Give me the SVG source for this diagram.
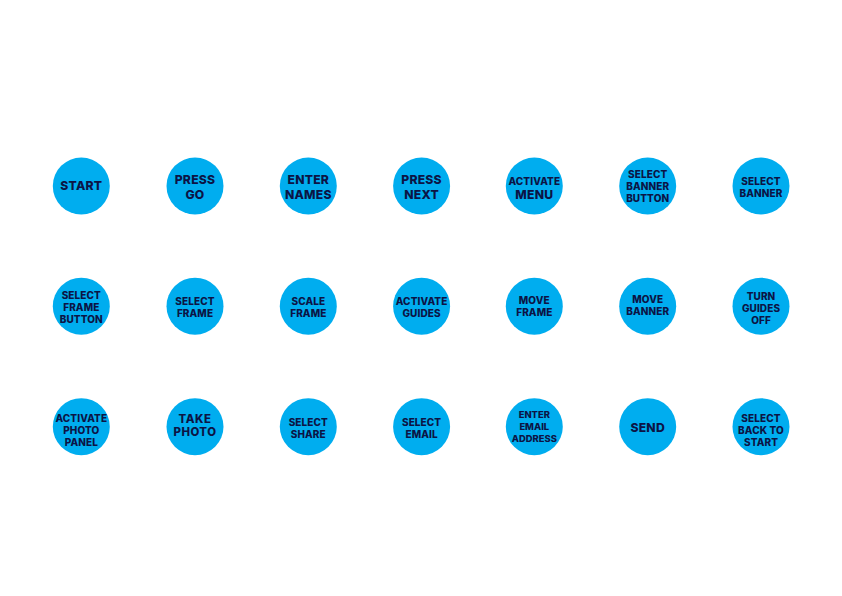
<svg xmlns="http://www.w3.org/2000/svg" width="842" height="596" viewBox="0 0 842 596">
<style>
.n{fill:#00adef}
text{font-family:Inter,"Liberation Sans",sans-serif;font-weight:800;fill:#0c1445;text-anchor:middle}
.L{font-size:12.2px;letter-spacing:0.2px}
.T{font-size:11.4px;letter-spacing:0.5px}
.S{font-size:10px;letter-spacing:0.1px}
.X{font-size:9.4px}
</style>
<rect width="842" height="596" fill="#ffffff"/>
<g id="connectors"></g>
<g id="n1"><circle class="n" cx="81.3" cy="186" r="28.5"/><text class="L" x="81.3" y="189.7">START</text></g>
<g id="n2"><circle class="n" cx="195" cy="186" r="28.5"/><text class="L" x="195" y="184.1">PRESS</text><text class="L" x="195" y="198.5">GO</text></g>
<g id="n3"><circle class="n" cx="308.3" cy="186" r="28.5"/><text class="L" x="308.3" y="184.4">ENTER</text><text class="L" x="308.3" y="198.8">NAMES</text></g>
<g id="n4"><circle class="n" cx="421.6" cy="186" r="28.5"/><text class="L" x="421.6" y="184.4">PRESS</text><text class="L" x="421.6" y="198.8">NEXT</text></g>
<g id="n5"><circle class="n" cx="534.3" cy="186" r="28.5"/><text class="S" x="534.3" y="184.5">ACTIVATE</text><text class="L" x="534.3" y="198.8">MENU</text></g>
<g id="n6"><circle class="n" cx="647.7" cy="186" r="28.5"/><text class="S" x="647.7" y="178">SELECT</text><text class="S" x="647.7" y="190">BANNER</text><text class="S" x="647.7" y="201.8">BUTTON</text></g>
<g id="n7"><circle class="n" cx="761" cy="186" r="28.5"/><text class="S" x="761" y="185">SELECT</text><text class="S" x="761" y="197">BANNER</text></g>

<g id="n8"><circle class="n" cx="81.3" cy="306.2" r="28.5"/><text class="S" x="81.3" y="299">SELECT</text><text class="S" x="81.3" y="310.8">FRAME</text><text class="S" x="81.3" y="322.7">BUTTON</text></g>
<g id="n9"><circle class="n" cx="195" cy="306.2" r="28.5"/><text class="S" x="195" y="305">SELECT</text><text class="S" x="195" y="317">FRAME</text></g>
<g id="n10"><circle class="n" cx="308.3" cy="306.2" r="28.5"/><text class="S" x="308.3" y="305">SCALE</text><text class="S" x="308.3" y="317">FRAME</text></g>
<g id="n11"><circle class="n" cx="421.6" cy="306.2" r="28.5"/><text class="S" x="421.6" y="305">ACTIVATE</text><text class="S" x="421.6" y="317">GUIDES</text></g>
<g id="n12"><circle class="n" cx="534.3" cy="306.2" r="28.5"/><text class="S" x="534.3" y="304">MOVE</text><text class="S" x="534.3" y="316">FRAME</text></g>
<g id="n13"><circle class="n" cx="647.7" cy="306.2" r="28.5"/><text class="S" x="647.7" y="302.7">MOVE</text><text class="S" x="647.7" y="314.8">BANNER</text></g>
<g id="n14"><circle class="n" cx="761" cy="306.2" r="28.5"/><text class="S" x="761" y="300">TURN</text><text class="S" x="761" y="311.8">GUIDES</text><text class="S" x="761" y="323.5">OFF</text></g>

<g id="n15"><circle class="n" cx="81.3" cy="426.7" r="28.5"/><text class="S" x="81.3" y="421.7">ACTIVATE</text><text class="S" x="81.3" y="433.7">PHOTO</text><text class="S" x="81.3" y="445.7">PANEL</text></g>
<g id="n16"><circle class="n" cx="195" cy="426.7" r="28.5"/><text class="T" x="195" y="422.9">TAKE</text><text class="T" x="195" y="436">PHOTO</text></g>
<g id="n17"><circle class="n" cx="308.3" cy="426.7" r="28.5"/><text class="S" x="308.3" y="425.7">SELECT</text><text class="S" x="308.3" y="437.7">SHARE</text></g>
<g id="n18"><circle class="n" cx="421.6" cy="426.7" r="28.5"/><text class="S" x="421.6" y="425.7">SELECT</text><text class="S" x="421.6" y="437.7">EMAIL</text></g>
<g id="n19"><circle class="n" cx="534.3" cy="426.7" r="28.5"/><text class="X" x="534.3" y="418.3">ENTER</text><text class="X" x="534.3" y="430.3">EMAIL</text><text class="X" x="534.3" y="442.1">ADDRESS</text></g>
<g id="n20"><circle class="n" cx="647.7" cy="426.7" r="28.5"/><text class="L" x="647.7" y="431.5">SEND</text></g>
<g id="n21"><circle class="n" cx="761" cy="426.7" r="28.5"/><text class="S" x="761" y="421.7">SELECT</text><text class="S" x="761" y="433.7">BACK TO</text><text class="S" x="761" y="445.7">START</text></g>
</svg>
